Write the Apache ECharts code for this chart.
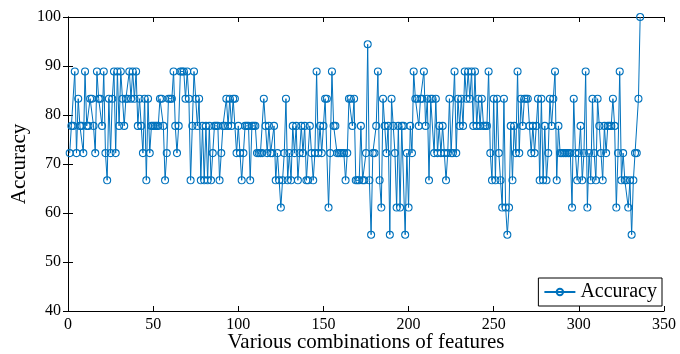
<!DOCTYPE html>
<html><head><meta charset="utf-8">
<script src="https://cdn.jsdelivr.net/npm/echarts@6/dist/echarts.min.js"></script>
<style>html,body{margin:0;padding:0;background:#fff}#c{width:680px;height:354px}</style>
</head><body><div id="c"></div>
<script>
var seriesName = "Accuracy";
var xTitle = "Various combinations of features";
var yTitle = "Accuracy";
var accuracy = [
72.22,77.78,77.78,88.89,72.22,83.33,77.78,77.78,72.22,88.89,
77.78,77.78,83.33,83.33,77.78,72.22,88.89,83.33,83.33,77.78,
88.89,72.22,66.67,83.33,72.22,83.33,88.89,72.22,88.89,77.78,
88.89,83.33,77.78,83.33,83.33,88.89,83.33,88.89,83.33,88.89,
77.78,83.33,77.78,72.22,83.33,66.67,83.33,72.22,77.78,77.78,
77.78,77.78,77.78,83.33,83.33,77.78,66.67,72.22,83.33,83.33,83.33,
88.89,77.78,72.22,77.78,88.89,88.89,88.89,83.33,88.89,83.33,
66.67,77.78,88.89,83.33,77.78,83.33,66.67,77.78,66.67,77.78,
66.67,77.78,66.67,72.22,77.78,77.78,77.78,66.67,72.22,77.78,
77.78,83.33,77.78,83.33,77.78,83.33,83.33,72.22,77.78,72.22,
66.67,72.22,77.78,77.78,77.78,66.67,77.78,77.78,77.78,72.22,
72.22,72.22,72.22,83.33,77.78,72.22,77.78,72.22,72.22,77.78,
66.67,72.22,66.67,61.11,66.67,72.22,83.33,66.67,72.22,66.67,
77.78,72.22,77.78,66.67,72.22,77.78,72.22,77.78,66.67,66.67,
77.78,72.22,66.67,72.22,88.89,72.22,77.78,72.22,77.78,83.33,
83.33,61.11,72.22,88.89,77.78,77.78,72.22,72.22,72.22,72.22,72.22,
66.67,72.22,83.33,83.33,77.78,83.33,66.67,66.67,66.67,77.78,
66.67,66.67,72.22,94.44,66.67,55.56,72.22,72.22,77.78,88.89,
66.67,61.11,83.33,77.78,72.22,77.78,55.56,83.33,77.78,72.22,
61.11,77.78,61.11,77.78,77.78,55.56,72.22,61.11,77.78,72.22,
88.89,83.33,83.33,77.78,83.33,83.33,88.89,77.78,83.33,66.67,
83.33,83.33,72.22,83.33,72.22,77.78,72.22,77.78,72.22,66.67,
72.22,83.33,72.22,72.22,88.89,72.22,83.33,77.78,83.33,77.78,
88.89,83.33,88.89,83.33,88.89,77.78,88.89,77.78,83.33,77.78,
83.33,77.78,77.78,77.78,88.89,72.22,66.67,83.33,66.67,83.33,
72.22,66.67,61.11,83.33,61.11,55.56,61.11,77.78,66.67,77.78,
72.22,88.89,72.22,83.33,77.78,83.33,83.33,83.33,77.78,72.22,77.78,
72.22,77.78,83.33,66.67,83.33,66.67,77.78,66.67,72.22,83.33,
77.78,83.33,88.89,66.67,77.78,72.22,72.22,72.22,72.22,72.22,
72.22,72.22,61.11,83.33,72.22,66.67,72.22,77.78,66.67,72.22,
88.89,61.11,72.22,66.67,83.33,72.22,66.67,83.33,77.78,72.22,
66.67,77.78,72.22,77.78,77.78,77.78,83.33,77.78,61.11,72.22,
88.89,66.67,72.22,66.67,66.67,61.11,66.67,55.56,66.67,72.22,
72.22,83.33,100
];
var xStart = 1;

var pts = accuracy.map(function(v, i){ return [xStart + i, v]; });
var font = "Liberation Serif";
var chart = echarts.init(document.getElementById('c'), null, {renderer:'canvas'});
var axisCommon = {
  axisLine:{show:true, lineStyle:{color:'#000', width:1}},
  axisTick:{show:true, inside:true, length:5, lineStyle:{color:'#000'}},
  splitLine:{show:false}
};
chart.setOption({
  animation:false,
  backgroundColor:'#fff',
  grid:{left:68, right:16, top:17, bottom:43, containLabel:false, outerBoundsMode:'none'},
  legend:{
    data:[{name:seriesName}], right:18, bottom:48,
    orient:'vertical', backgroundColor:'#fff', borderColor:'#000', borderWidth:1,
    borderRadius:0, padding:[4,5,4,5], itemWidth:31, itemHeight:8, itemGap:0,
    textStyle:{fontFamily:font, fontSize:20, color:'#000'}
  },
  xAxis:[
    Object.assign({type:'value', min:0, max:350, interval:50, position:'bottom',
      name:xTitle, nameLocation:'middle', nameGap:21, nameMoveOverlap:false,
      nameTextStyle:{fontFamily:font, fontSize:21, color:'#000'},
      axisLabel:{fontFamily:font, fontSize:16, color:'#000', margin:6}}, axisCommon),
    Object.assign({type:'value', min:0, max:350, interval:50, position:'top',
      axisLabel:{show:false}}, axisCommon)
  ],
  yAxis:[
    Object.assign({type:'value', min:40, max:100, interval:10, position:'left',
      name:yTitle, nameLocation:'middle', nameGap:38, nameMoveOverlap:false,
      nameTextStyle:{fontFamily:font, fontSize:21, color:'#000'},
      axisLabel:{fontFamily:font, fontSize:16, color:'#000', margin:7}}, axisCommon),
    Object.assign({type:'value', min:40, max:100, interval:10, position:'right',
      axisLabel:{show:false}}, axisCommon)
  ],
  series:[{
    name:seriesName, type:'line', data:pts, xAxisIndex:0, yAxisIndex:0,
    symbol:'circle', symbolSize:7, showAllSymbol:true,
    lineStyle:{color:'#0072BD', width:1},
    itemStyle:{color:'rgba(0,0,0,0)', borderColor:'#0072BD', borderWidth:1.1},
    emphasis:{disabled:true}
  }]
});
</script></body></html>
